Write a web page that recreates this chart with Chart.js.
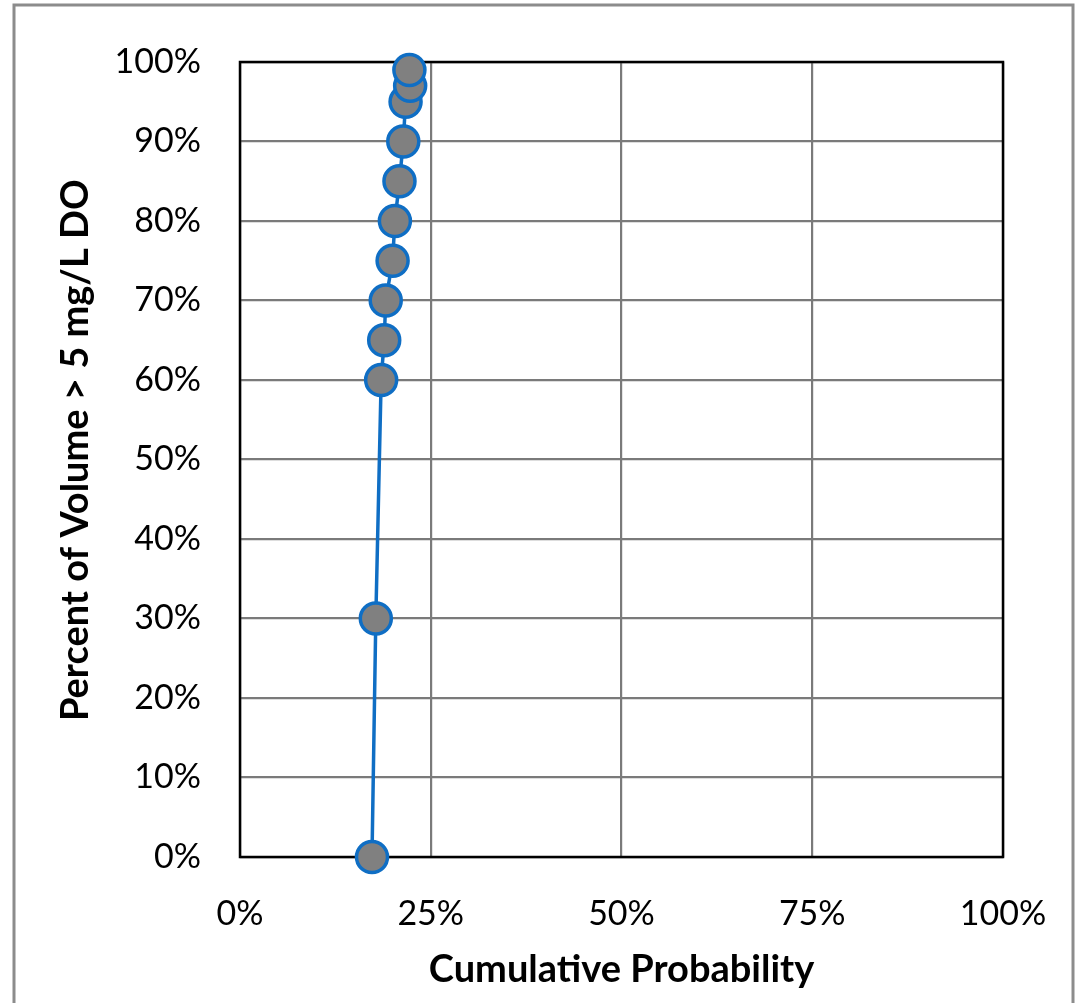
<!DOCTYPE html>
<html>
<head>
<meta charset="utf-8">
<script src="https://cdn.jsdelivr.net/npm/chart.js@4/dist/chart.umd.min.js"></script>
<style>
  html, body { margin: 0; padding: 0; background: #fff; }
  canvas { display: block; }
</style>
</head>
<body>
<canvas id="chart" width="1078" height="1003"></canvas>
<script>
"use strict";

// cumulative probability (%) vs percent of volume > 5 mg/L DO (%)
const cumProb = [17.3, 17.8, 18.5, 18.9, 19.1, 20.0, 20.3, 20.9, 21.4, 21.7, 22.3, 22.2];
const volPct = [0, 30, 60, 65, 70, 75, 80, 85, 90, 95, 97, 99];

const xTicks = [0, 25, 50, 75, 100];
const yTicks = [0, 10, 20, 30, 40, 50, 60, 70, 80, 90, 100];

const xTitle = "Cumulative Probability";
const yTitle = "Percent of Volume > 5 mg/L DO";

const FONT = "Lato, 'Open Sans', sans-serif";
const LINE_BLUE = "#0f6ec4";

// outer frame + black box round the plot area
const framePlugin = {
  id: "frame",
  beforeDraw(chart) {
    const ctx = chart.ctx;
    ctx.save();
    ctx.fillStyle = "#fff";
    ctx.fillRect(0, 0, chart.width, chart.height);
    ctx.strokeStyle = "#8c8c8c";
    ctx.lineWidth = 3;
    ctx.strokeRect(14, 5, 1059, chart.height + 20);
    ctx.restore();
  },
  beforeDatasetsDraw(chart) {
    const { ctx, chartArea: a } = chart;
    ctx.save();
    ctx.strokeStyle = "#000";
    ctx.lineWidth = 2.5;
    ctx.strokeRect(a.left, a.top, a.right - a.left, a.bottom - a.top);
    ctx.restore();
  },
};

const points = cumProb.map((x, i) => ({ x, y: volPct[i] }));

new Chart(document.getElementById("chart"), {
  type: "scatter",
  data: {
    datasets: [
      {
        data: points,
        showLine: true,
        borderColor: LINE_BLUE,
        borderWidth: 3.5,
        pointBackgroundColor: "#808080",
        pointBorderColor: LINE_BLUE,
        pointBorderWidth: 3.5,
        pointRadius: 15.5,
        pointHoverRadius: 15.5,
        clip: false,
      },
    ],
  },
  options: {
    responsive: false,
    animation: false,
    events: [],
    layout: { padding: { left: 0, top: 62, right: 75, bottom: 0 } },
    plugins: { legend: { display: false }, tooltip: { enabled: false } },
    scales: {
      x: {
        type: "linear",
        min: 0,
        max: 100,
        afterBuildTicks: (s) => { s.ticks = xTicks.map((v) => ({ value: v })); },
        afterFit: (s) => {
          s.height = 146;
          s.paddingLeft = 0;
          s.paddingRight = 0;
        },
        grid: { color: "#7a7a7a", lineWidth: 2.2, drawTicks: false },
        border: { display: false },
        ticks: {
          padding: 37,
          color: "#000",
          font: { family: FONT, size: 34 },
          callback: (v) => v + "%",
        },
        title: {
          display: true,
          text: xTitle,
          color: "#000",
          font: { family: FONT, size: 38, weight: "bold" },
          padding: { top: 0, bottom: 10 },
        },
      },
      y: {
        type: "linear",
        min: 0,
        max: 100,
        afterBuildTicks: (s) => { s.ticks = yTicks.map((v) => ({ value: v })); },
        afterFit: (s) => { s.width = 240; },
        grid: { color: "#7a7a7a", lineWidth: 2.2, drawTicks: false },
        border: { display: false },
        ticks: {
          padding: 39,
          color: "#000",
          font: { family: FONT, size: 34 },
          callback: (v) => v + "%",
        },
        title: {
          display: true,
          // leading spaces nudge the rotated title up like the original
          text: "  " + yTitle,
          color: "#000",
          font: { family: FONT, size: 38, weight: "bold" },
          padding: { top: 53, bottom: 0 },
        },
      },
    },
  },
  plugins: [framePlugin],
});
</script>
</body>
</html>
